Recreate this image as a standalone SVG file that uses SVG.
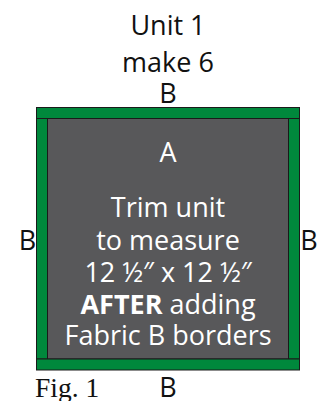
<svg xmlns="http://www.w3.org/2000/svg" width="326" height="401" viewBox="0 0 326 401">
<style>
.t{font-family:"Open Sans","Liberation Sans",sans-serif;font-size:27px;text-anchor:middle;fill:#111}
.w{font-family:"Open Sans","Liberation Sans",sans-serif;font-size:27px;text-anchor:middle;fill:#ffffff}
.b{fill:#00883c;stroke:#1a1a1a;stroke-width:1}
.a{fill:#58585a;stroke:#1a1a1a;stroke-width:1}
</style>
<rect width="326" height="401" fill="#ffffff"/>
<g id="title">
<text class="t" x="168" y="35">Unit 1</text>
<text class="t" x="168" y="72">make 6</text>
</g>
<g id="unitA">
<rect class="a" x="47.5" y="118" width="241" height="241"/>
<text class="w" x="168" y="162">A</text>
<text class="w" x="168" y="217">Trim unit</text>
<text class="w" x="168" y="250">to measure</text>
<text class="w" x="168" y="282">12 ½″ x 12 ½″</text>
<text class="w" x="168" y="314"><tspan font-weight="700">AFTER</tspan> adding</text>
<text class="w" x="168" y="345">Fabric B borders</text>
</g>
<g id="borderLeft">
<rect class="b" x="36.5" y="118" width="11" height="241"/>
<text class="t" x="27.5" y="250">B</text>
</g>
<g id="borderRight">
<rect class="b" x="288.5" y="118" width="11" height="241"/>
<text class="t" x="309" y="250">B</text>
</g>
<g id="borderTop">
<rect class="b" x="36.5" y="107.5" width="263" height="11"/>
<text class="t" x="168" y="103">B</text>
</g>
<g id="borderBottom">
<rect class="b" x="36.5" y="359" width="263" height="11"/>
<text class="t" x="168" y="397">B</text>
</g>
<g id="connectors"></g>
<text x="35" y="397" font-family="'Liberation Serif','Times New Roman',serif" font-size="27.5" fill="#111">Fig. 1</text>
</svg>
